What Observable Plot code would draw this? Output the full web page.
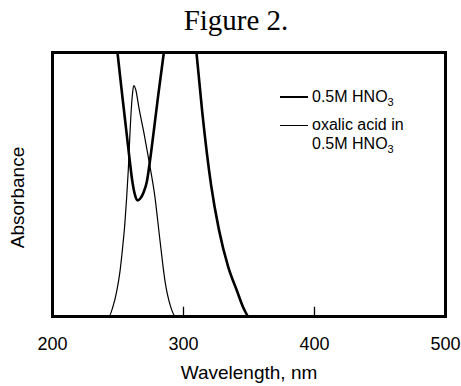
<!DOCTYPE html>
<html><head><meta charset="utf-8">
<script src="https://cdn.jsdelivr.net/npm/d3@7"></script>
<script src="https://cdn.jsdelivr.net/npm/@observablehq/plot@0.6"></script>
<style>
body{margin:0;background:#fff;font-family:"Liberation Sans",Arial,sans-serif;color:#000;}
#wrap{position:relative;width:461px;height:386px;overflow:hidden;}
#title{height:40px;line-height:40px;font-family:"Liberation Serif","Times New Roman",serif;font-size:29px;text-align:center;padding-left:11px;box-sizing:border-box;}
.sw{position:absolute;width:28px;height:0;}
.lt{position:absolute;font-size:16px;line-height:20px;white-space:nowrap;}
.lt sub{font-size:11px;vertical-align:-4px;line-height:0;}
</style></head>
<body>
<div id="wrap">
<div id="title">Figure 2.</div>
<div id="chart"></div>
<div class="sw" style="left:280px;top:96px;border-top:2.6px solid #000"></div>
<div class="lt" style="left:312px;top:87px">0.5M HNO<sub>3</sub></div>
<div class="sw" style="left:280px;top:125px;border-top:1.2px solid #000"></div>
<div class="lt" style="left:312px;top:115px">oxalic acid in</div>
<div class="lt" style="left:312px;top:134px">0.5M HNO<sub>3</sub></div>
</div>
<script>
// 0.5M HNO3 (thick) — off-scale between the two branches (gap)
const hno3Wavelength = [249.6, 252.5, 255.5, 258.5, 261, 263, 265, 267, 269.5, 272, 274, 277, 280.5, 285, 297, 309.9, 314.3, 321, 327, 334, 341, 346, 350, 500];
const hno3Absorbance = [1.0, 0.87, 0.74, 0.61, 0.51, 0.46, 0.44, 0.447, 0.47, 0.51, 0.575, 0.69, 0.83, 1.0, NaN, 1.0, 0.775, 0.50, 0.33, 0.19, 0.095, 0.03, 0, 0];
// oxalic acid in 0.5M HNO3 (thin)
const oxalicWavelength = [200, 243, 246, 249, 251.5, 253.5, 255.2, 256.6, 257.8, 259, 260.2, 261.2, 262, 263.5, 266, 270, 274, 278, 282, 286, 290, 294, 500];
const oxalicAbsorbance = [0, 0, 0.035, 0.095, 0.17, 0.26, 0.35, 0.45, 0.55, 0.68, 0.79, 0.85, 0.875, 0.86, 0.79, 0.69, 0.58, 0.46, 0.29, 0.13, 0.04, 0, 0];
const xTicks = [200, 300, 400, 500];
const innerTicks = [300, 400];
const xLabel = "Wavelength, nm";
const yLabel = "Absorbance";

const hno3 = hno3Wavelength.map((w, i) => ({w, a: hno3Absorbance[i]}));
const oxalic = oxalicWavelength.map((w, i) => ({w, a: oxalicAbsorbance[i]}));

const chart = Plot.plot({
  width: 461, height: 346,
  marginTop: 12, marginBottom: 70, marginLeft: 52, marginRight: 16,
  x: {domain: [200, 500]},
  y: {domain: [0, 1], axis: null},
  style: {fontFamily: "'Liberation Sans', Arial, sans-serif", color: "#000", background: "#fff"},
  marks: [
    Plot.line(oxalic, {x: "w", y: "a", stroke: "#000", strokeWidth: 1.2, curve: "monotone-x", clip: true}),
    Plot.line(hno3, {x: "w", y: "a", stroke: "#000", strokeWidth: 2.6, curve: "monotone-x", clip: true}),
    Plot.ruleX(innerTicks, {y1: 0, y2: 0.035, stroke: "#000", strokeWidth: 1.3}),
    Plot.frame({stroke: "#000", strokeWidth: 3}),
    Plot.axisX({ticks: xTicks, tickSize: 0, tickPadding: 21, fontSize: 18, label: null}),
    Plot.text([xLabel], {text: d => d, frameAnchor: "bottom", lineAnchor: "middle", textAnchor: "middle", dy: 56, fontSize: 19}),
    Plot.text([yLabel], {text: d => d, frameAnchor: "left", lineAnchor: "middle", textAnchor: "middle", rotate: -90, dx: -35, dy: 13, fontSize: 19})
  ]
});
document.getElementById("chart").appendChild(chart);
</script>
</body></html>
